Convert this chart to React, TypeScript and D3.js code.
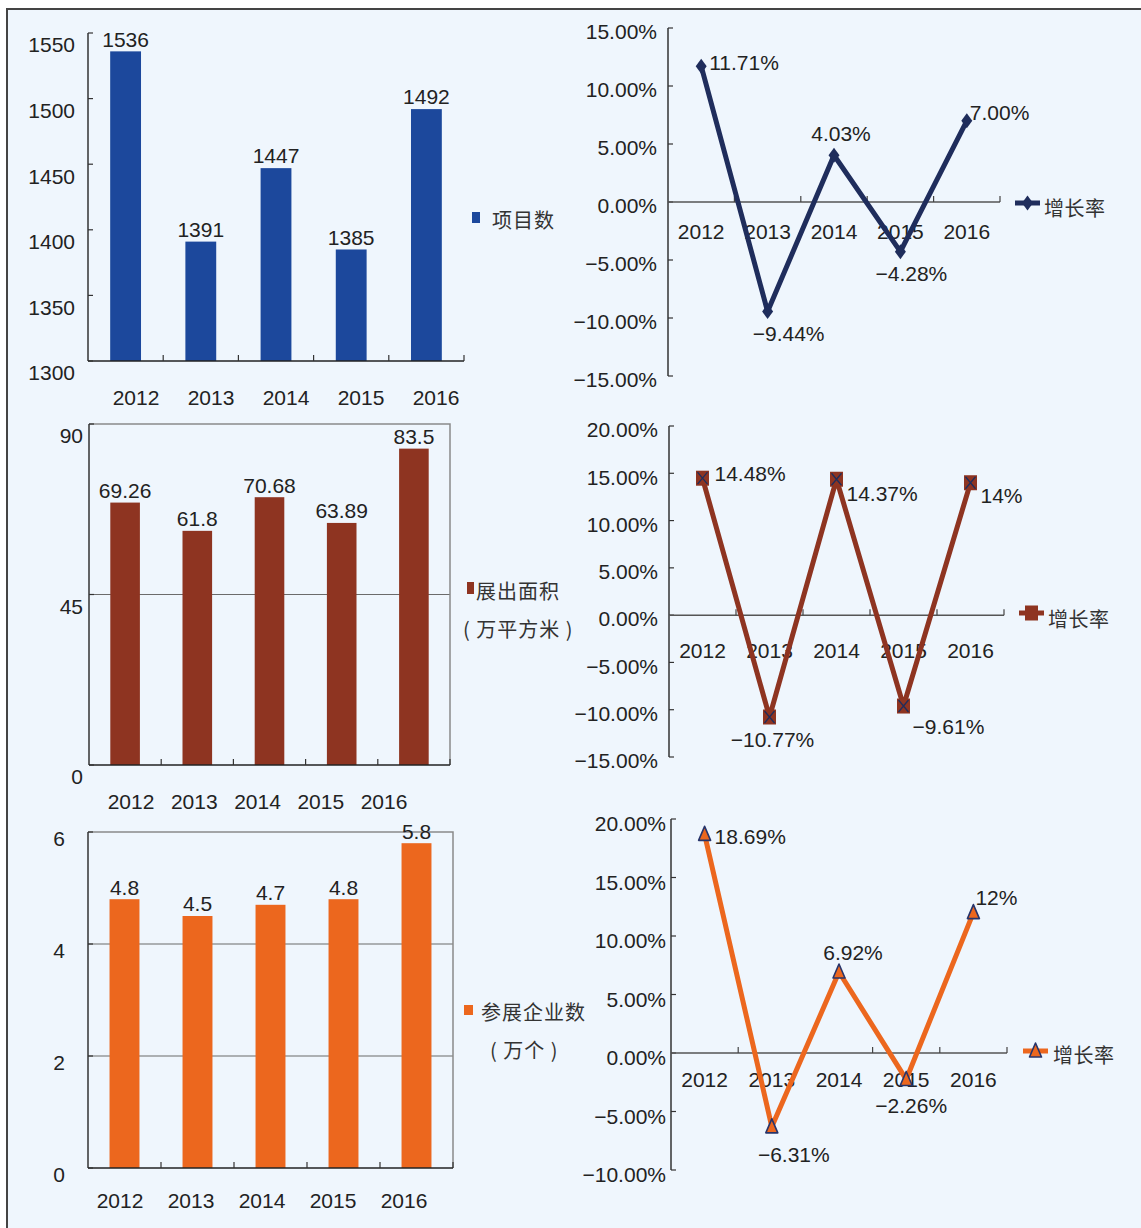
import React from 'react';
import * as d3 from 'd3';

const years = ['2012', '2013', '2014', '2015', '2016'];

const projectCounts = [1536, 1391, 1447, 1385, 1492];
const projectTicks = [1300, 1350, 1400, 1450, 1500, 1550];
const projectGrowth = [11.71, -9.44, 4.03, -4.28, 7.0];
const projectGrowthLabels = ['11.71%', '−9.44%', '4.03%', '−4.28%', '7.00%'];
const projectRateTicks = [-15, -10, -5, 0, 5, 10, 15];

const areaValues = [69.26, 61.8, 70.68, 63.89, 83.5];
const areaTicks = [0, 45, 90];
const areaGrowth = [14.48, -10.77, 14.37, -9.61, 14];
const areaGrowthLabels = ['14.48%', '−10.77%', '14.37%', '−9.61%', '14%'];
const areaRateTicks = [-15, -10, -5, 0, 5, 10, 15, 20];

const exhibitorValues = [4.8, 4.5, 4.7, 4.8, 5.8];
const exhibitorTicks = [0, 2, 4, 6];
const exhibitorGrowth = [18.69, -6.31, 6.92, -2.26, 12];
const exhibitorGrowthLabels = ['18.69%', '−6.31%', '6.92%', '−2.26%', '12%'];
const exhibitorRateTicks = [-10, -5, 0, 5, 10, 15, 20];

const FONT = '"Liberation Sans", "Noto Sans CJK SC", sans-serif';
const CJK = '"Noto Sans CJK SC", sans-serif';
const TEXT = '#222';
const NAVY = '#1f2d5c';
const FS = 21;

const pct = (d: number) => (d < 0 ? '−' : '') + Math.abs(d).toFixed(2) + '%';

interface BarCfg {
  values: number[];
  ticks: number[];
  domain: [number, number];
  grid: number[];
  frame: boolean;
  x0: number; x1: number; top: number; bottom: number;
  tickLabelX: number; tickLabelDy: number;
  xLabelRange: [number, number]; xLabelY: number;
  color: string;
  legend: string[];
  legendRect: [number, number, number, number];
  legendText: [number, number][];
}

const BarPanel: React.FC<{ cfg: BarCfg }> = ({ cfg }) => {
  const slot = d3.scaleBand<string>().domain(years).range([cfg.x0, cfg.x1]);
  const y = d3.scaleLinear().domain(cfg.domain).range([cfg.bottom, cfg.top]);
  const labelX = d3.scalePoint<string>().domain(years).range(cfg.xLabelRange);
  const bw = slot.bandwidth() * 0.41;

  return (
    <g>
      {cfg.grid.map(g => (
        <line key={g} x1={cfg.x0} x2={cfg.x1} y1={y(g)} y2={y(g)} stroke="#6b6b6b" strokeWidth={1.2} />
      ))}
      {cfg.frame && (
        <path
          d={`M${cfg.x0},${cfg.top}H${cfg.x1}V${cfg.bottom}`}
          fill="none" stroke="#8a8a8a" strokeWidth={1.5}
        />
      )}
      {cfg.values.map((v, i) => {
        const cx = slot(years[i])! + slot.bandwidth() / 2;
        return (
          <g key={years[i]}>
            <rect x={cx - bw / 2} y={y(v)} width={bw} height={cfg.bottom - y(v)} fill={cfg.color} />
            <text x={cx} y={y(v) - 12} dy="0.35em" textAnchor="middle" fontSize={FS} fill={TEXT}>
              {String(v)}
            </text>
          </g>
        );
      })}
      {/* axes */}
      <line x1={cfg.x0} x2={cfg.x0} y1={cfg.top} y2={cfg.bottom} stroke="#333" strokeWidth={1.5} />
      <line x1={cfg.x0} x2={cfg.x1} y1={cfg.bottom} y2={cfg.bottom} stroke="#222" strokeWidth={1.5} />
      {cfg.ticks.map(t => (
        <g key={t}>
          <line x1={cfg.x0} x2={cfg.x0 + 5} y1={y(t)} y2={y(t)} stroke="#333" strokeWidth={1.2} />
          <text x={cfg.tickLabelX} y={y(t) + cfg.tickLabelDy} dy="0.35em" textAnchor="end" fontSize={FS} fill={TEXT}>
            {t}
          </text>
        </g>
      ))}
      {years.map(yr => (
        <g key={yr}>
          <line
            x1={slot(yr)! + slot.bandwidth()} x2={slot(yr)! + slot.bandwidth()}
            y1={cfg.bottom} y2={cfg.bottom - 6} stroke="#333" strokeWidth={1.2}
          />
          <text x={labelX(yr)} y={cfg.xLabelY} dy="0.35em" textAnchor="middle" fontSize={FS} fill={TEXT}>
            {yr}
          </text>
        </g>
      ))}
      <rect
        x={cfg.legendRect[0]} y={cfg.legendRect[1]}
        width={cfg.legendRect[2]} height={cfg.legendRect[3]} fill={cfg.color}
      />
      {cfg.legend.map((s, i) => (
        <text
          key={s} x={cfg.legendText[i][0]} y={cfg.legendText[i][1]} dy="0.35em"
          fontSize={20} fontFamily={CJK} letterSpacing={1} fill="#333"
        >
          {s}
        </text>
      ))}
    </g>
  );
};

type Marker = 'diamond' | 'square' | 'triangle';

interface LineCfg {
  values: number[];
  labels: string[];
  labelPos: [number, number, 'start' | 'middle'][];
  ticks: number[];
  domain: [number, number];
  x0: number; x1: number; top: number; bottom: number;
  tickLabelX: number; tickLabelDy: number;
  xLabelY: number;
  color: string;
  marker: Marker;
  legendLine: [number, number, number];
  legendText: [number, number];
}

const MarkerShape: React.FC<{ kind: Marker; color: string; legend?: boolean }> = ({ kind, color, legend }) => {
  if (kind === 'diamond') return <path d="M0,-7.5L5.5,0L0,7.5L-5.5,0Z" fill={NAVY} />;
  if (kind === 'square')
    return (
      <g>
        <rect x={-6.5} y={-7.5} width={13} height={15} fill={color} />
        {!legend && <path d="M-5,-6L5,6M5,-6L-5,6" stroke={NAVY} strokeWidth={1.3} />}
      </g>
    );
  return <path d="M0,-8L6,6L-6,6Z" fill={color} stroke="#27346a" strokeWidth={1.6} strokeLinejoin="round" />;
};

const LinePanel: React.FC<{ cfg: LineCfg }> = ({ cfg }) => {
  const slot = d3.scaleBand<string>().domain(years).range([cfg.x0, cfg.x1]);
  const y = d3.scaleLinear().domain(cfg.domain).range([cfg.bottom, cfg.top]);
  const cx = (yr: string) => slot(yr)! + slot.bandwidth() / 2;
  const line = d3.line<number>()
    .x((_, i) => cx(years[i]))
    .y(d => y(d));
  const zero = y(0);
  const [lx1, lx2, ly] = cfg.legendLine;

  return (
    <g>
      <line x1={cfg.x0} x2={cfg.x0} y1={cfg.top} y2={cfg.bottom} stroke="#333" strokeWidth={1.5} />
      {cfg.ticks.map(t => (
        <g key={t}>
          <line x1={cfg.x0} x2={cfg.x0 + 5} y1={y(t)} y2={y(t)} stroke="#333" strokeWidth={1.2} />
          <text x={cfg.tickLabelX} y={y(t) + cfg.tickLabelDy} dy="0.35em" textAnchor="end" fontSize={FS} fill={TEXT}>
            {pct(t)}
          </text>
        </g>
      ))}
      <line x1={cfg.x0} x2={cfg.x1} y1={zero} y2={zero} stroke="#555" strokeWidth={1.5} />
      {years.map(yr => (
        <g key={yr}>
          <line
            x1={slot(yr)! + slot.bandwidth()} x2={slot(yr)! + slot.bandwidth()}
            y1={zero} y2={zero - 6} stroke="#444" strokeWidth={1.2}
          />
          <text x={cx(yr)} y={cfg.xLabelY} dy="0.35em" textAnchor="middle" fontSize={FS} fill={TEXT}>
            {yr}
          </text>
        </g>
      ))}
      <path d={line(cfg.values)!} fill="none" stroke={cfg.color} strokeWidth={5} strokeLinejoin="round" />
      {cfg.values.map((v, i) => (
        <g key={years[i]} transform={`translate(${cx(years[i])},${y(v)})`}>
          <MarkerShape kind={cfg.marker} color={cfg.color} />
        </g>
      ))}
      {cfg.values.map((v, i) => (
        <text
          key={years[i]}
          x={cx(years[i]) + cfg.labelPos[i][0]} y={y(v) + cfg.labelPos[i][1]} dy="0.35em"
          textAnchor={cfg.labelPos[i][2]} fontSize={FS} fill={TEXT}
        >
          {cfg.labels[i]}
        </text>
      ))}
      <line x1={lx1} x2={lx2} y1={ly} y2={ly} stroke={cfg.color} strokeWidth={5} />
      <g transform={`translate(${(lx1 + lx2) / 2},${ly})`}>
        <MarkerShape kind={cfg.marker} color={cfg.color} legend />
      </g>
      <text
        x={cfg.legendText[0]} y={cfg.legendText[1]} dy="0.35em"
        fontSize={20} fontFamily={CJK} letterSpacing={0.5} fill="#333"
      >
        增长率
      </text>
    </g>
  );
};

const projectBars: BarCfg = {
  values: projectCounts, ticks: projectTicks, domain: [1300, 1550], grid: [], frame: false,
  x0: 88, x1: 464, top: 33, bottom: 361, tickLabelX: 75, tickLabelDy: 12,
  xLabelRange: [136, 436], xLabelY: 398, color: '#1c489c',
  legend: ['项目数'], legendRect: [472, 212, 8, 11], legendText: [[492, 221]],
};

const areaBars: BarCfg = {
  values: areaValues, ticks: areaTicks, domain: [0, 90], grid: [45], frame: true,
  x0: 89, x1: 450, top: 424, bottom: 765, tickLabelX: 83, tickLabelDy: 12,
  xLabelRange: [131, 384], xLabelY: 802, color: '#8e3421',
  legend: ['展出面积', '( 万平方米 )'], legendRect: [467, 582, 7, 12],
  legendText: [[476, 592], [463, 630]],
};

const exhibitorBars: BarCfg = {
  values: exhibitorValues, ticks: exhibitorTicks, domain: [0, 6], grid: [2, 4], frame: true,
  x0: 88, x1: 453, top: 832, bottom: 1168, tickLabelX: 65, tickLabelDy: 7,
  xLabelRange: [120, 404], xLabelY: 1201, color: '#ec671e',
  legend: ['参展企业数', '( 万个 )'], legendRect: [464, 1005, 9, 10],
  legendText: [[481, 1013], [490, 1051]],
};

const projectLine: LineCfg = {
  values: projectGrowth, labels: projectGrowthLabels,
  labelPos: [[8, -4, 'start'], [21, 22, 'middle'], [7, -22, 'middle'], [11, 22, 'middle'], [3, -8, 'start']],
  ticks: projectRateTicks, domain: [-15, 15],
  x0: 668, x1: 1000, top: 28, bottom: 376, tickLabelX: 657, tickLabelDy: 4, xLabelY: 232,
  color: NAVY, marker: 'diamond', legendLine: [1015, 1040, 203], legendText: [1044, 209],
};

const areaLine: LineCfg = {
  values: areaGrowth, labels: areaGrowthLabels,
  labelPos: [[12, -5, 'start'], [3, 23, 'middle'], [10, 14, 'start'], [9, 21, 'start'], [10, 13, 'start']],
  ticks: areaRateTicks, domain: [-15, 20],
  x0: 669, x1: 1004, top: 426, bottom: 757, tickLabelX: 658, tickLabelDy: 4, xLabelY: 651,
  color: '#8e3421', marker: 'square', legendLine: [1019, 1044, 613], legendText: [1048, 620],
};

const exhibitorLine: LineCfg = {
  values: exhibitorGrowth, labels: exhibitorGrowthLabels,
  labelPos: [[10, 2, 'start'], [22, 28, 'middle'], [14, -19, 'middle'], [5, 26, 'middle'], [2, -15, 'start']],
  ticks: exhibitorRateTicks, domain: [-10, 20],
  x0: 671, x1: 1007, top: 819, bottom: 1170, tickLabelX: 666, tickLabelDy: 5, xLabelY: 1080,
  color: '#ec671e', marker: 'triangle', legendLine: [1023, 1048, 1051], legendText: [1053, 1056],
};

export default function App() {
  return (
    <svg
      width={1141} height={1228}
      style={{ position: 'absolute', left: 0, top: 0, background: '#fff' }}
      fontFamily={FONT}
    >
      <rect x={7} y={9} width={1150} height={1240} fill="#eff6fd" stroke="#444" strokeWidth={2} />
      <BarPanel cfg={projectBars} />
      <LinePanel cfg={projectLine} />
      <BarPanel cfg={areaBars} />
      <LinePanel cfg={areaLine} />
      <BarPanel cfg={exhibitorBars} />
      <LinePanel cfg={exhibitorLine} />
    </svg>
  );
}
